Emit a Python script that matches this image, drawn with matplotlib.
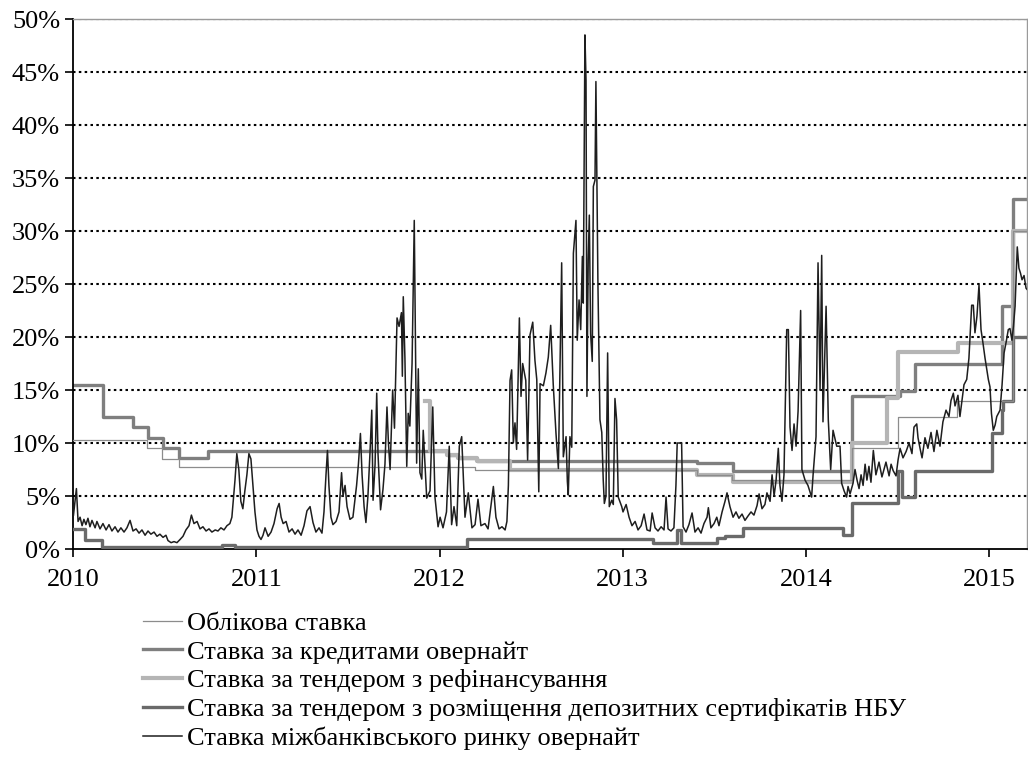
import matplotlib
matplotlib.use("Agg")
import matplotlib.pyplot as plt
import numpy as np

plt.rcParams['font.family'] = ['Liberation Serif', 'DejaVu Serif']

# ---------------- data ----------------
x_end = 2015.208

discount_x = [2010.000, 2010.403, 2010.484, 2010.577, 2012.191, 2013.406, 2013.597,
              2014.251, 2014.504, 2014.824, 2015.132]
discount_y = [10.25, 9.5, 8.5, 7.75, 7.5, 7.0, 6.5, 9.5, 12.5, 14.0, 30.0]

overnight_x = [2010.000, 2010.162, 2010.326, 2010.408, 2010.490, 2010.577, 2010.736,
               2012.040, 2012.100, 2012.204, 2013.406, 2013.603, 2014.251, 2014.515,
               2014.597, 2015.070, 2015.132]
overnight_y = [15.5, 12.5, 11.5, 10.5, 9.5, 8.6, 9.25, 8.9, 8.6, 8.35, 8.1, 7.35,
               14.4, 14.9, 17.5, 22.9, 33.0]

refi_x = [2011.920, 2011.948, 2012.040, 2012.100, 2012.204, 2012.385, 2013.406,
          2013.603, 2014.251, 2014.442, 2014.504, 2014.831, 2015.132]
refi_y = [14.0, 9.2, 8.9, 8.6, 8.35, 7.5, 7.0, 6.35, 10.0, 14.2, 18.6, 19.4, 30.0]

deposit_x = [2010.000, 2010.064, 2010.155, 2010.810, 2010.883, 2012.150, 2013.166,
             2013.295, 2013.319, 2013.514, 2013.559, 2013.657, 2014.203, 2014.251,
             2014.504, 2014.526, 2014.597, 2015.015, 2015.070, 2015.077, 2015.132]
deposit_y = [1.9, 0.85, 0.2, 0.4, 0.2, 0.9, 0.6, 1.8, 0.6, 1.0, 1.2, 1.95, 1.35, 4.3,
             7.4, 4.9, 7.4, 10.9, 13.1, 14.0, 20.0]

interbank_x = [
    2010.001, 2010.017, 2010.026, 2010.037, 2010.048, 2010.058, 2010.069, 2010.080,
    2010.091, 2010.102, 2010.119, 2010.129, 2010.146, 2010.162, 2010.179, 2010.195,
    2010.211, 2010.228, 2010.244, 2010.260, 2010.277, 2010.293, 2010.310, 2010.326,
    2010.343, 2010.359, 2010.375, 2010.392, 2010.408, 2010.424, 2010.441, 2010.457,
    2010.473, 2010.490, 2010.506, 2010.517, 2010.534, 2010.550, 2010.566, 2010.583,
    2010.599, 2010.615, 2010.632, 2010.645, 2010.659, 2010.676, 2010.692, 2010.708,
    2010.725, 2010.741, 2010.757, 2010.775, 2010.790, 2010.806, 2010.823, 2010.839,
    2010.855, 2010.866, 2010.883, 2010.893, 2010.904, 2010.915, 2010.926, 2010.937,
    2010.948, 2010.959, 2010.970, 2010.981, 2010.992, 2011.003, 2011.014, 2011.025,
    2011.036, 2011.047, 2011.064, 2011.080, 2011.096, 2011.113, 2011.124, 2011.135,
    2011.146, 2011.162, 2011.178, 2011.195, 2011.211, 2011.227, 2011.244, 2011.260,
    2011.276, 2011.293, 2011.309, 2011.325, 2011.342, 2011.358, 2011.369, 2011.380,
    2011.388, 2011.396, 2011.407, 2011.418, 2011.435, 2011.451, 2011.465, 2011.473,
    2011.484, 2011.495, 2011.511, 2011.527, 2011.547, 2011.557, 2011.568, 2011.577,
    2011.588, 2011.598, 2011.609, 2011.620, 2011.630, 2011.637, 2011.648, 2011.657,
    2011.664, 2011.678, 2011.691, 2011.702, 2011.713, 2011.721, 2011.730, 2011.744,
    2011.754, 2011.768, 2011.779, 2011.792, 2011.797, 2011.802, 2011.811, 2011.821,
    2011.829, 2011.838, 2011.850, 2011.862, 2011.875, 2011.884, 2011.893, 2011.903,
    2011.911, 2011.930, 2011.948, 2011.963, 2011.975, 2011.992, 2012.003, 2012.019,
    2012.038, 2012.053, 2012.066, 2012.079, 2012.094, 2012.108, 2012.121, 2012.139,
    2012.157, 2012.177, 2012.194, 2012.210, 2012.226, 2012.248, 2012.265, 2012.294,
    2012.308, 2012.325, 2012.341, 2012.358, 2012.368, 2012.376, 2012.385, 2012.394,
    2012.403, 2012.412, 2012.421, 2012.436, 2012.445, 2012.454, 2012.471, 2012.481,
    2012.494, 2012.509, 2012.521, 2012.531, 2012.542, 2012.549, 2012.567, 2012.581,
    2012.594, 2012.607, 2012.621, 2012.636, 2012.649, 2012.667, 2012.676, 2012.691,
    2012.698, 2012.703, 2012.712, 2012.722, 2012.731, 2012.745, 2012.752, 2012.762,
    2012.771, 2012.780, 2012.785, 2012.794, 2012.800, 2012.805, 2012.812, 2012.818,
    2012.825, 2012.834, 2012.840, 2012.849, 2012.854, 2012.865, 2012.876, 2012.886,
    2012.894, 2012.900, 2012.909, 2012.918, 2012.927, 2012.940, 2012.949, 2012.958,
    2012.967, 2012.976, 2012.995, 2013.002, 2013.019, 2013.035, 2013.051, 2013.068,
    2013.084, 2013.101, 2013.117, 2013.133, 2013.150, 2013.161, 2013.177, 2013.193,
    2013.210, 2013.226, 2013.237, 2013.248, 2013.264, 2013.280, 2013.291, 2013.298,
    2013.322, 2013.330, 2013.346, 2013.362, 2013.379, 2013.395, 2013.412, 2013.428,
    2013.444, 2013.461, 2013.468, 2013.482, 2013.499, 2013.514, 2013.526, 2013.543,
    2013.559, 2013.570, 2013.586, 2013.603, 2013.619, 2013.635, 2013.652, 2013.668,
    2013.684, 2013.701, 2013.717, 2013.734, 2013.745, 2013.761, 2013.777, 2013.788,
    2013.805, 2013.816, 2013.827, 2013.838, 2013.850, 2013.859, 2013.870, 2013.881,
    2013.896, 2013.905, 2013.914, 2013.925, 2013.936, 2013.947, 2013.958, 2013.972,
    2013.979, 2013.996, 2014.012, 2014.032, 2014.040, 2014.056, 2014.067, 2014.078,
    2014.087, 2014.094, 2014.111, 2014.123, 2014.136, 2014.149, 2014.169, 2014.187,
    2014.196, 2014.209, 2014.223, 2014.231, 2014.242, 2014.258, 2014.269, 2014.280,
    2014.291, 2014.302, 2014.313, 2014.324, 2014.334, 2014.345, 2014.356, 2014.369,
    2014.383, 2014.400, 2014.416, 2014.427, 2014.438, 2014.455, 2014.466, 2014.477,
    2014.493, 2014.504, 2014.515, 2014.531, 2014.548, 2014.564, 2014.580, 2014.591,
    2014.606, 2014.613, 2014.624, 2014.635, 2014.651, 2014.667, 2014.684, 2014.700,
    2014.716, 2014.733, 2014.749, 2014.766, 2014.782, 2014.793, 2014.806, 2014.815,
    2014.831, 2014.842, 2014.853, 2014.864, 2014.879, 2014.891, 2014.906, 2014.915,
    2014.924, 2014.935, 2014.946, 2014.957, 2014.968, 2014.979, 2014.997, 2015.006,
    2015.014, 2015.024, 2015.034, 2015.043, 2015.061, 2015.072, 2015.083, 2015.094,
    2015.106, 2015.115, 2015.126, 2015.134, 2015.143, 2015.155, 2015.164, 2015.173,
    2015.181, 2015.192, 2015.203, 2015.208]
interbank_y = [
    3.2, 5.7, 2.6, 3.0, 2.2, 2.8, 2.3, 2.9,
    2.1, 2.7, 2.0, 2.6, 1.9, 2.4, 1.8, 2.3,
    1.7, 2.1, 1.6, 2.0, 1.6, 2.0, 2.7, 1.7,
    1.9, 1.5, 1.8, 1.3, 1.7, 1.4, 1.6, 1.2,
    1.4, 1.1, 1.3, 0.8, 0.6, 0.7, 0.6, 0.9,
    1.2, 1.8, 2.2, 3.2, 2.4, 2.6, 1.9, 2.1,
    1.7, 1.9, 1.6, 1.8, 1.7, 2.0, 1.8, 2.2,
    2.4, 3.0, 6.5, 9.0, 7.5, 4.5, 3.8, 5.5,
    7.0, 9.0, 8.5, 6.0, 3.5, 1.8, 1.2, 0.9,
    1.3, 2.0, 1.2, 1.6, 2.4, 3.8, 4.3, 3.0,
    2.4, 2.6, 1.6, 1.9, 1.4, 1.8, 1.3, 2.2,
    3.6, 4.0, 2.5, 1.6, 2.0, 1.5, 3.5, 7.0,
    9.3, 6.0, 3.0, 2.3, 2.6, 3.5, 7.2, 5.0,
    6.0, 4.0, 2.8, 3.0, 6.0, 8.0, 10.9, 7.0,
    4.0, 2.5, 5.0, 9.0, 13.1, 4.6, 8.0, 14.7,
    9.0, 3.7, 5.6, 8.0, 13.4, 10.0, 7.5, 15.0,
    11.4, 21.8, 21.0, 22.3, 16.3, 23.8, 18.0, 7.8,
    12.8, 11.6, 17.5, 31.0, 8.1, 17.0, 7.2, 6.6,
    11.2, 4.8, 5.5, 13.4, 4.9, 2.1, 3.0, 2.0,
    3.5, 9.7, 2.3, 4.0, 2.2, 9.7, 10.6, 3.0,
    5.3, 2.0, 2.3, 4.7, 2.2, 2.4, 1.9, 5.9,
    3.0, 1.9, 2.1, 1.8, 2.6, 6.0, 15.9, 16.9,
    10.0, 11.9, 9.4, 21.8, 14.4, 17.5, 15.9, 8.4,
    20.2, 21.4, 17.8, 16.0, 5.4, 15.6, 15.4, 16.6,
    18.1, 21.1, 15.5, 10.9, 7.6, 27.0, 8.7, 10.6,
    6.4, 5.1, 10.6, 9.6, 27.9, 31.0, 19.7, 23.5,
    20.7, 27.6, 23.2, 48.5, 44.2, 14.4, 27.3, 31.5,
    20.3, 17.7, 34.2, 34.8, 44.1, 25.0, 12.2, 11.0,
    6.5, 4.3, 5.0, 18.5, 4.0, 4.6, 4.2, 14.2,
    12.2, 4.9, 4.0, 3.5, 4.2, 3.0, 2.2, 2.6,
    1.8, 2.2, 3.3, 1.8, 1.7, 3.4, 2.0, 1.7,
    2.1, 1.8, 4.9, 1.9, 1.7, 2.0, 6.0, 10.0,
    10.0, 2.1, 1.6, 2.3, 3.4, 1.6, 2.0, 1.5,
    2.4, 3.0, 3.9, 2.0, 2.4, 3.0, 2.2, 3.5,
    4.5, 5.3, 4.0, 3.0, 3.5, 2.9, 3.3, 2.7,
    3.1, 3.5, 3.2, 4.1, 5.2, 3.8, 4.2, 5.3,
    4.5, 7.0, 5.0, 6.5, 9.5, 6.0, 4.5, 7.0,
    20.7, 20.7, 11.5, 9.3, 11.8, 9.7, 13.0, 22.5,
    7.5, 6.5, 6.0, 4.9, 7.0, 10.6, 27.0, 15.0,
    27.7, 12.0, 22.9, 12.2, 7.5, 11.2, 9.7, 9.7,
    6.2, 5.5, 4.9, 5.9, 5.2, 6.2, 7.5, 6.5,
    5.7, 7.0, 6.0, 8.0, 6.5, 7.8, 6.3, 9.3,
    7.0, 8.2, 6.8, 7.5, 8.2, 6.9, 8.0, 7.4,
    6.9, 8.4, 9.5, 8.6, 9.2, 10.0, 9.0, 11.5,
    11.8, 10.5, 9.5, 8.6, 10.5, 9.5, 11.0, 9.2,
    11.2, 9.7, 12.0, 13.1, 12.5, 14.0, 14.7, 13.5,
    14.5, 12.5, 14.0, 15.5, 16.0, 18.0, 23.0, 23.0,
    20.4, 22.0, 24.9, 20.7, 19.4, 18.0, 16.0, 15.3,
    12.8, 11.2, 11.7, 12.5, 13.1, 15.5, 18.5, 19.5,
    20.7, 20.8, 19.7, 21.0, 22.9, 28.5, 26.5, 26.0,
    25.4, 25.8, 24.6, 24.5]

labels = ["Облікова ставка",
          "Ставка за кредитами овернайт",
          "Ставка за тендером з рефінансування",
          "Ставка за тендером з розміщення депозитних сертифікатів НБУ",
          "Ставка міжбанківського ринку овернайт"]

year_ticks = [2010, 2011, 2012, 2013, 2014, 2015]
pct_ticks = list(range(0, 55, 5))

# ---------------- plot ----------------
fig = plt.figure(figsize=(10.28, 7.76), dpi=100)
ax = fig.add_axes([0.0713, 0.2925, 0.9277, 0.6830])


def ext(xs, ys):
    return list(xs) + [x_end], list(ys) + [ys[-1]]


l1, = ax.plot(*ext(discount_x, discount_y), drawstyle='steps-post',
              color='#8c8c8c', lw=0.9, zorder=3)
l2, = ax.plot(*ext(overnight_x, overnight_y), drawstyle='steps-post',
              color='#7f7f7f', lw=2.4, zorder=2)
l3, = ax.plot(*ext(refi_x, refi_y), drawstyle='steps-post',
              color='#b5b5b5', lw=3.0, zorder=2.5)
l4, = ax.plot(*ext(deposit_x, deposit_y), drawstyle='steps-post',
              color='#6a6a6a', lw=2.4, zorder=2.6)
l5, = ax.plot(interbank_x, interbank_y, color='#1e1e1e', lw=1.1, zorder=4)

ax.set_xlim(2010, x_end)
ax.set_ylim(0, 50)
ax.set_xticks(year_ticks)
ax.set_xticklabels([str(y) for y in year_ticks])
ax.set_yticks(pct_ticks)
ax.set_yticklabels([f"{p}%" for p in pct_ticks])

for p in pct_ticks[1:]:
    ax.axhline(p, color='black', lw=1.5, linestyle=(0, (1.2, 1.6)), zorder=1)

ax.tick_params(axis='both', direction='out', length=6, width=1.2,
               labelsize=19, colors='black')
ax.tick_params(axis='y', pad=3.5)
ax.tick_params(axis='x', pad=8.5)
for s in ['left', 'bottom']:
    ax.spines[s].set_color('black')
    ax.spines[s].set_linewidth(1.3)
for s in ['top', 'right']:
    ax.spines[s].set_color('#9a9a9a')
    ax.spines[s].set_linewidth(1.0)

fig.legend([l1, l2, l3, l4, l5], labels, loc='upper left',
           bbox_to_anchor=(0.1391, 0.2120), frameon=False, fontsize=19,
           handlelength=1.48, handletextpad=0.18, labelspacing=0.2,
           borderpad=0, borderaxespad=0)

fig.savefig('out.png', dpi=100)
